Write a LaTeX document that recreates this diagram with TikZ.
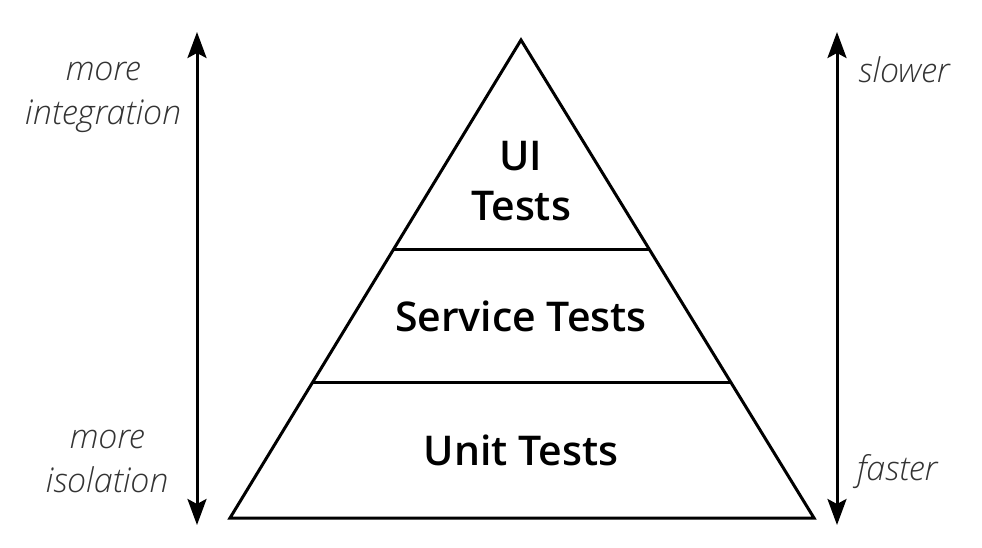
\documentclass[tikz,border=0pt]{standalone}
\usepackage{fontspec}
\setmainfont{Open Sans}
\IfFontExistsTF{Open Sans SemiBold}{\newfontfamily\semib{Open Sans SemiBold}}{\IfFontExistsTF{Open Sans Semibold}{\newfontfamily\semib{Open Sans Semibold}}{\newfontfamily\semib{Open Sans}}}
\IfFontExistsTF{Open Sans Light Italic}{\newfontfamily\lightit{Open Sans Light Italic}}{\newcommand\lightit{\itshape}}
\usetikzlibrary{arrows.meta}
\definecolor{labelgray}{HTML}{333333}
\tikzset{
  pyr/.style={line width=3pt, line join=miter},
  axis/.style={line width=3pt, {Stealth[length=26pt,width=19pt,inset=5pt]}-{Stealth[length=26pt,width=19pt,inset=5pt]}},
  tier/.style={font=\semib\fontsize{41}{50}\selectfont, align=center, inner sep=0pt},
  side/.style={font=\lightit\fontsize{34}{44}\selectfont, text=labelgray, align=center, inner sep=0pt},
}
\begin{document}
\begin{tikzpicture}[x=1pt,y=-1pt]
\useasboundingbox (0,0) rectangle (982,548);
% pyramid
\coordinate (apex) at (521,40);
\coordinate (bl) at (230,518);
\coordinate (br) at (814,518);
\coordinate (l1) at (394,249);
\coordinate (r1) at (649,249);
\coordinate (l2) at (313,382);
\coordinate (r2) at (730,382);
\draw[pyr] (apex) -- (br) -- (bl) -- cycle;
\draw[pyr] (l1) -- (r1);
\draw[pyr] (l2) -- (r2);
% tier labels
\node[tier] (ui) at (521,181) {UI\\Tests};
\node[tier] (svc) at (521,316) {Service Tests};
\node[tier] (unit) at (521,450) {Unit Tests};
% arrows
\coordinate (ltop) at (197,32);
\coordinate (lbot) at (197,525);
\coordinate (rtop) at (837,32);
\coordinate (rbot) at (837,525);
\draw[axis] (ltop) -- (lbot);
\draw[axis] (rtop) -- (rbot);
% side labels
\node[side] (mi) at (103,97) {more\\integration};
\node[side] (mis) at (107,461) {more\\isolation};
\node[side] (sl) at (904,70) {slower};
\node[side] (fa) at (897,472) {faster};
\end{tikzpicture}
\end{document}
